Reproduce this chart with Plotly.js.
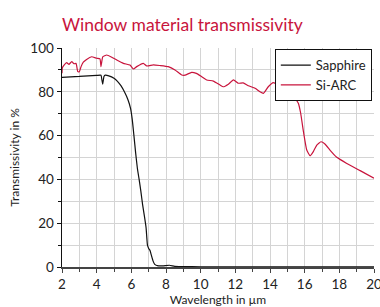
<!DOCTYPE html>
<html><head><meta charset="utf-8">
<script src="https://cdn.plot.ly/plotly-3.0.1.min.js"></script>
<style>html,body{margin:0;padding:0;background:#fff}#chart{width:380px;height:307px}</style>
</head><body><div id="chart"></div>
<script>
const sapphireX = [2, 2.5, 3, 3.5, 4, 4.25, 4.3, 4.35, 4.42, 4.5, 4.7, 5.0, 5.2, 5.4, 5.6, 5.8, 5.95, 6.05, 6.15, 6.25, 6.35, 6.45, 6.55, 6.65, 6.75, 6.85, 6.93, 7.0, 7.08, 7.15, 7.25, 7.35, 7.5, 7.8, 8.2, 8.5, 9, 10, 12, 14, 16, 18, 20];
const sapphireY = [86.6, 86.8, 87.0, 87.3, 87.5, 87.6, 85.5, 83.5, 87.0, 87.6, 87.3, 86.2, 84.8, 82.8, 80.0, 76.5, 72.5, 67.5, 60.0, 52.0, 45.0, 40.0, 34.5, 28.5, 23.5, 18.0, 10.0, 8.5, 7.5, 5.5, 2.8, 1.2, 0.6, 0.5, 0.8, 0.3, 0.2, 0.1, 0.1, 0.1, 0.1, 0.1, 0.1];
const siArcX = [2.0, 2.02, 2.12, 2.27, 2.40, 2.56, 2.69, 2.81, 2.91, 3.0, 3.10, 3.23, 3.42, 3.71, 4.0, 4.19, 4.25, 4.35, 4.58, 4.87, 5.16, 5.54, 5.92, 6.12, 6.31, 6.69, 6.89, 7.27, 7.65, 8.13, 8.52, 8.91, 9.1, 9.48, 9.75, 10.06, 10.35, 10.73, 11.12, 11.3, 11.6, 11.89, 12.17, 12.45, 12.75, 13.14, 13.42, 13.62, 13.9, 14.19, 14.48, 14.77, 15.16, 15.44, 15.64, 15.77, 15.93, 16.12, 16.31, 16.5, 16.7, 16.94, 17.17, 17.46, 17.85, 18.43, 19.2, 20.0];
const siArcY = [88.5, 91, 92.2, 93.3, 92.5, 93.8, 92.8, 93.0, 89.2, 89.2, 91.5, 93.5, 94.8, 96, 95.3, 95, 91.5, 96, 96.8, 95.8, 94.5, 93, 92.2, 90.4, 91.5, 93, 91.8, 92.3, 92.0, 91.5, 90, 87.7, 87.6, 88.9, 88.4, 86.9, 85.4, 84.9, 83.1, 82.3, 83.5, 85.4, 83.9, 84.1, 82.8, 81.6, 80, 79.3, 82.3, 84.2, 83.1, 81.6, 79.3, 77.0, 74.7, 70.2, 61.8, 53.4, 50.8, 52.7, 55.7, 57.2, 56.2, 53.4, 50.1, 47.3, 44.0, 40.5];
const seriesNames = ['Sapphire', 'Si-ARC'];

const traces = [
  {x: sapphireX, y: sapphireY, name: seriesNames[0], mode: 'lines', line: {color: '#111111', width: 1.2, shape: 'spline', smoothing: 0.4}},
  {x: siArcX, y: siArcY, name: seriesNames[1], mode: 'lines', line: {color: '#c8143c', width: 1.2, shape: 'spline', smoothing: 0.4}}
];
const font = 'Lato, "Open Sans", sans-serif';
const layout = {
  width: 380, height: 307,
  margin: {l: 62, r: 6, t: 48, b: 40},
  paper_bgcolor: '#fff', plot_bgcolor: '#fff',
  font: {family: font, color: '#222', size: 13},
  title: {text: 'Window material transmissivity', x: 0, xref: 'paper', xanchor: 'left', y: 0.94, yref: 'container', font: {family: font, size: 17.5, color: '#c8143c'}},
  showlegend: true,
  legend: {x: 0.993, xanchor: 'right', y: 0.995, yanchor: 'top', bgcolor: '#fff', bordercolor: '#111', borderwidth: 1, font: {size: 13, color: '#222'}, tracegroupgap: 0, itemwidth: 30},
  xaxis: {
    range: [2, 20], dtick: 2, tick0: 2, showgrid: true, gridcolor: '#d4d4d4', gridwidth: 1,
    ticks: 'outside', ticklen: 4, tickcolor: '#444', ticklabeloverflow: 'allow',
    minor: {dtick: 1, showgrid: true, gridcolor: '#d4d4d4', ticks: 'outside', ticklen: 3, tickcolor: '#444'},
    showline: true, linecolor: '#444', linewidth: 2, zeroline: false,
    tickfont: {size: 13.5, color: '#222'},
    title: {text: 'Wavelength in µm', font: {size: 12, color: '#222'}, standoff: 5}
  },
  yaxis: {
    range: [0, 100], dtick: 20, showgrid: true, gridcolor: '#d4d4d4', gridwidth: 1,
    ticks: 'outside', ticklen: 4, tickcolor: '#111',
    minor: {dtick: 10, showgrid: true, gridcolor: '#d4d4d4', ticks: 'outside', ticklen: 3, tickcolor: '#111'},
    showline: true, linecolor: '#111', linewidth: 1.5, zeroline: false,
    tickfont: {size: 13.5, color: '#222'},
    title: {text: 'Transmissivity in %', font: {size: 12, color: '#222'}, standoff: 8}
  }
};
Plotly.newPlot('chart', traces, layout, {displayModeBar: false, staticPlot: true});
</script></body></html>
